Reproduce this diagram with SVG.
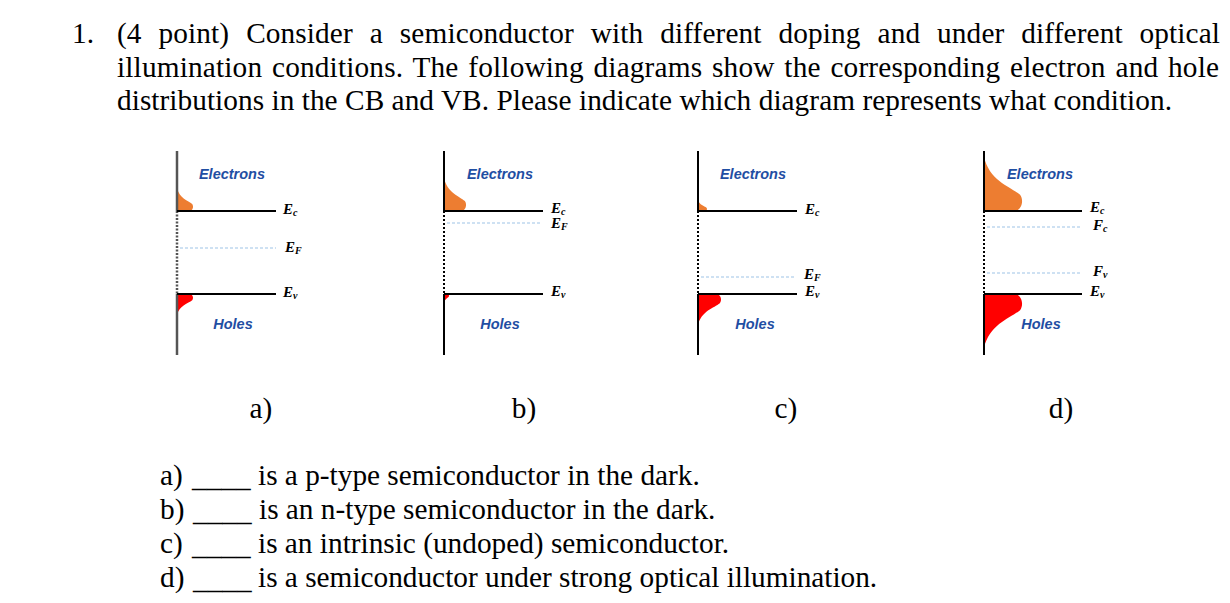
<svg xmlns="http://www.w3.org/2000/svg" xmlns:xlink="http://www.w3.org/1999/xlink" width="1230" height="603" viewBox="0 0 1230 603">
<style>
.t{font-family:"Liberation Serif","Times New Roman",serif;font-size:29.3px;fill:#000}
.lab{font-family:"Liberation Sans",Arial,sans-serif;font-size:14.5px;font-weight:bold;font-style:italic;fill:#1f4ea3;text-anchor:middle}
.e{font-family:"Liberation Serif","Times New Roman",serif;font-size:15px;font-weight:bold;font-style:italic;fill:#000}
.s{font-size:10px}
.band{stroke:#000;stroke-width:2;fill:none}
.fermi{stroke:#9dc3e6;stroke-width:1;stroke-dasharray:3 2;fill:none}
.ax{stroke:#000;stroke-width:2;fill:none}
.axd{stroke:#000;stroke-width:2;stroke-dasharray:2 2;fill:none}
.elec{fill:#ed7d31}
.hole{fill:#ff0000}
</style>
<defs>
<path id="dist" d="M0,0 L0.85,0 C1,-0.05 1.05,-0.2 0.95,-0.3 C0.7,-0.45 0.15,-0.55 0,-1 Z"/>
</defs>
<rect width="1230" height="603" fill="#fff"/>
<g id="question">
<text class="t" x="72" y="43">1.</text>
<text class="t" x="117" y="43" word-spacing="9.5" textLength="1103" lengthAdjust="spacing">(4 point) Consider a semiconductor with different doping and under different optical</text>
<text class="t" x="117" y="77" word-spacing="2.3" textLength="1102" lengthAdjust="spacing">illumination conditions. The following diagrams show the corresponding electron and hole</text>
<text class="t" x="117" y="110" textLength="1055" lengthAdjust="spacing">distributions in the CB and VB. Please indicate which diagram represents what condition.</text>
</g>
<g id="diagram-a">
<use href="#dist" class="elec" transform="translate(177,211) scale(16,23)"/>
<use href="#dist" class="hole" transform="translate(177,294) scale(16,-21)"/>
<line x1="177" y1="151" x2="177" y2="211" stroke="#555" stroke-width="2.5"/>
<line x1="177" y1="211" x2="177" y2="294" stroke="#555" stroke-width="2.5" stroke-dasharray="2 1.5"/>
<line x1="177" y1="294" x2="177" y2="355" stroke="#555" stroke-width="2.5"/>
<line class="band" x1="177" y1="211" x2="276" y2="211"/>
<line class="fermi" x1="180" y1="248" x2="276" y2="248"/>
<line class="band" x1="177" y1="294" x2="276" y2="294"/>
<text class="lab" x="232" y="179">Electrons</text>
<text class="lab" x="233" y="329">Holes</text>
<text class="e" x="283" y="214">E<tspan class="s" dy="2">c</tspan></text>
<text class="e" x="285" y="252">E<tspan class="s" dy="2">F</tspan></text>
<text class="e" x="283" y="297">E<tspan class="s" dy="2">v</tspan></text>
<text class="t" x="261" y="418" text-anchor="middle">a)</text>
</g>
<g id="diagram-b">
<use href="#dist" class="elec" transform="translate(444,211) scale(22,33)"/>
<use href="#dist" class="hole" transform="translate(444,294) scale(5,-9)"/>
<line class="ax" x1="444" y1="151" x2="444" y2="211"/>
<line class="axd" x1="444" y1="211" x2="444" y2="294"/>
<line class="ax" x1="444" y1="294" x2="444" y2="355"/>
<line class="band" x1="444" y1="211" x2="543" y2="211"/>
<line class="fermi" x1="447" y1="223" x2="542" y2="223"/>
<line class="band" x1="444" y1="294" x2="543" y2="294"/>
<text class="lab" x="500" y="179">Electrons</text>
<text class="lab" x="500" y="329">Holes</text>
<text class="e" x="551" y="213">E<tspan class="s" dy="2">c</tspan></text>
<text class="e" x="551" y="228">E<tspan class="s" dy="2">F</tspan></text>
<text class="e" x="551" y="296">E<tspan class="s" dy="2">v</tspan></text>
<text class="t" x="524" y="418" text-anchor="middle">b)</text>
</g>
<g id="diagram-c">
<use href="#dist" class="elec" transform="translate(698,211) scale(9,11)"/>
<use href="#dist" class="hole" transform="translate(698,294) scale(23,-31)"/>
<line class="ax" x1="698" y1="151" x2="698" y2="211"/>
<line class="axd" x1="698" y1="211" x2="698" y2="294"/>
<line class="ax" x1="698" y1="294" x2="698" y2="355"/>
<line class="band" x1="698" y1="211" x2="797" y2="211"/>
<line class="fermi" x1="701" y1="277" x2="796" y2="277"/>
<line class="band" x1="698" y1="294" x2="797" y2="294"/>
<text class="lab" x="753" y="179">Electrons</text>
<text class="lab" x="755" y="329">Holes</text>
<text class="e" x="805" y="214">E<tspan class="s" dy="2">c</tspan></text>
<text class="e" x="804" y="279">E<tspan class="s" dy="2">F</tspan></text>
<text class="e" x="805" y="296">E<tspan class="s" dy="1.5">v</tspan></text>
<text class="t" x="786" y="418" text-anchor="middle">c)</text>
</g>
<g id="diagram-d">
<use href="#dist" class="elec" transform="translate(984,211) scale(38,54)"/>
<use href="#dist" class="hole" transform="translate(984,294) scale(38,-54)"/>
<line class="ax" x1="984" y1="151" x2="984" y2="211"/>
<line class="axd" x1="984" y1="211" x2="984" y2="294"/>
<line class="ax" x1="984" y1="294" x2="984" y2="355"/>
<line class="band" x1="984" y1="211" x2="1082" y2="211"/>
<line class="fermi" x1="987" y1="227" x2="1082" y2="227"/>
<line class="fermi" x1="987" y1="273" x2="1082" y2="273"/>
<line class="band" x1="984" y1="294" x2="1082" y2="294"/>
<text class="lab" x="1040" y="179">Electrons</text>
<text class="lab" x="1041" y="329">Holes</text>
<text class="e" x="1090" y="212">E<tspan class="s" dy="2">c</tspan></text>
<text class="e" x="1093" y="230">F<tspan class="s" dy="2">c</tspan></text>
<text class="e" x="1093" y="276">F<tspan class="s" dy="2">v</tspan></text>
<text class="e" x="1090" y="296">E<tspan class="s" dy="2">v</tspan></text>
<text class="t" x="1061" y="418" text-anchor="middle">d)</text>
</g>
<g id="answers">
<text class="t" x="160" y="485">a)</text>
<text class="t" x="192" y="487">____</text>
<text class="t" x="258" y="485">is a p-type semiconductor in the dark.</text>
<text class="t" x="160" y="519">b)</text>
<text class="t" x="193" y="521">____</text>
<text class="t" x="259" y="519">is an n-type semiconductor in the dark.</text>
<text class="t" x="160" y="553">c)</text>
<text class="t" x="192" y="555">____</text>
<text class="t" x="258" y="553">is an intrinsic (undoped) semiconductor.</text>
<text class="t" x="160" y="587">d)</text>
<text class="t" x="193" y="589">____</text>
<text class="t" x="258" y="587">is a semiconductor under strong optical illumination.</text>
</g>
</svg>
